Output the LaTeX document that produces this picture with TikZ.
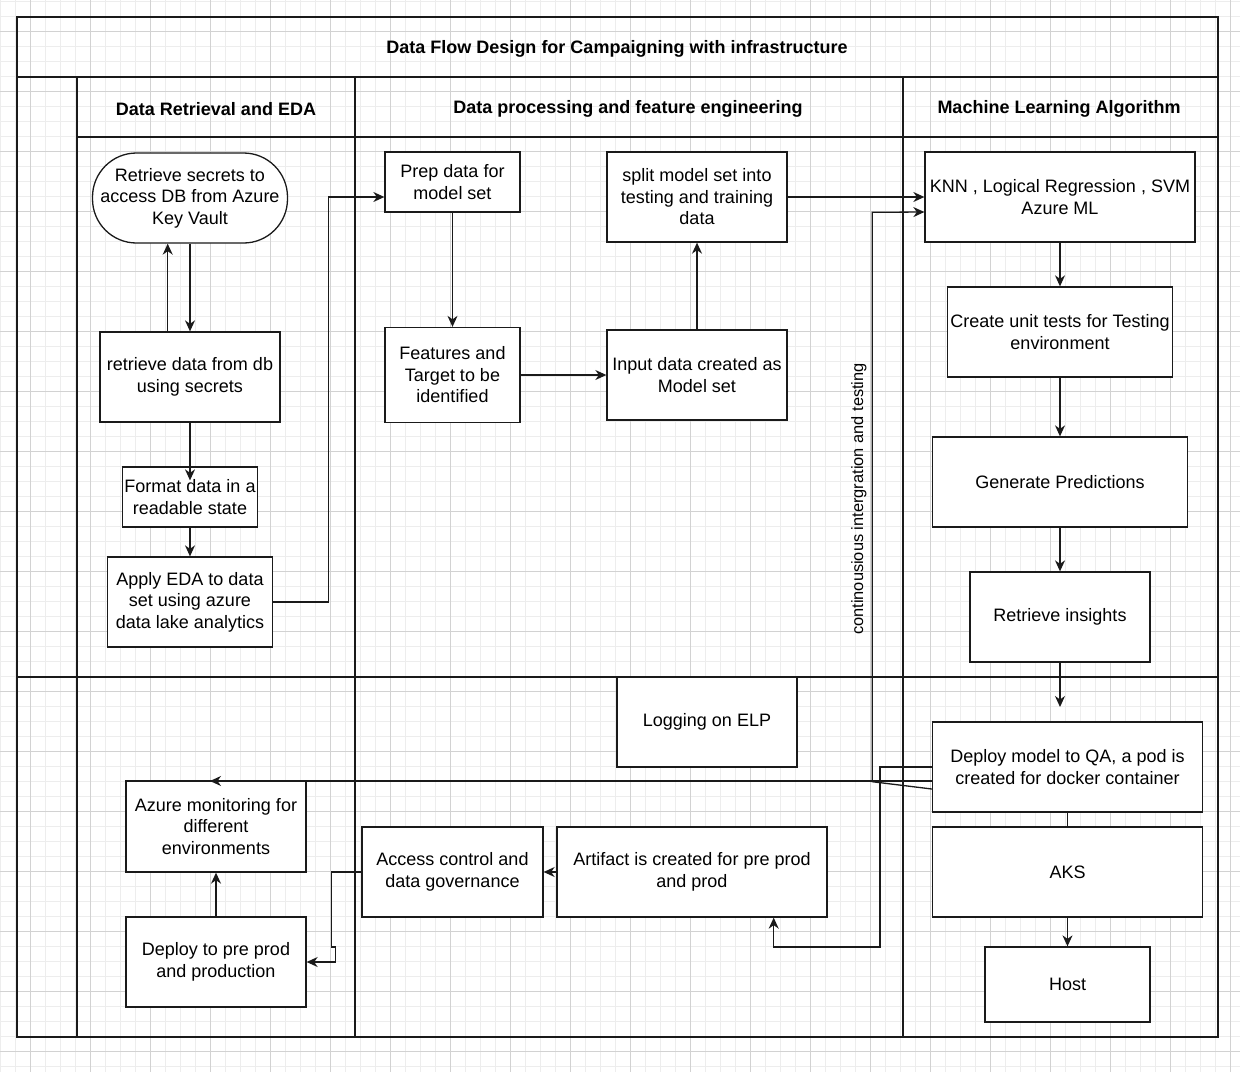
\documentclass[tikz,border=0pt]{standalone}
\usepackage{fontspec}
\setmainfont{Liberation Sans}
\usetikzlibrary{arrows.meta}
\definecolor{gridmajor}{HTML}{D2D2D2}
\definecolor{gridminor}{HTML}{EDEDED}
\definecolor{ink}{HTML}{1A1A1A}
\begin{document}
\begin{tikzpicture}[x=1pt,y=-1pt,
  box/.style={draw=ink, line width=1.3pt, fill=white, align=center, inner sep=0pt,
    font=\fontsize{18}{21.5}\selectfont},
  lane/.style={draw=ink, line width=1.5pt},
  hdr/.style={align=center, inner sep=0pt, font=\fontsize{18}{21.5}\selectfont\bfseries},
  arr/.style={draw=ink, line width=1.3pt, -{Stealth[length=11pt,width=10pt,inset=3.5pt]}},
  plain/.style={draw=ink, line width=1.3pt}
]
\useasboundingbox (0,0) rectangle (1240,1072);
\fill[white] (0,0) rectangle (1240,1072);
% grid
\foreach \i in {0,...,82} { \draw[gridminor, line width=1pt] ({0.7+15*\i},0) -- ({0.7+15*\i},1072); }
\foreach \j in {0,...,71} { \draw[gridminor, line width=1pt] (0,{1.7+15*\j}) -- (1240,{1.7+15*\j}); }
\foreach \i in {0,...,20} { \draw[gridmajor, line width=1pt] ({30.7+60*\i},0) -- ({30.7+60*\i},1072); }
\foreach \j in {0,...,17} { \draw[gridmajor, line width=1pt] (0,{31.7+60*\j}) -- (1240,{31.7+60*\j}); }

% swimlanes
\draw[lane] (17,17) rectangle (1218,1037);
\draw[lane] (17,77) -- (1218,77);
\draw[lane] (77,77) -- (77,1037);
\draw[lane] (355,77) -- (355,1037);
\draw[lane] (903,77) -- (903,1037);
\draw[lane] (77,137) -- (1218,137);
\draw[lane] (17,677) -- (1218,677);

\node[hdr] (title) at (617,49) {Data Flow Design for Campaigning with infrastructure};
\node[hdr] (h1) at (216,109) {Data Retrieval and EDA};
\node[hdr] (h2) at (628,109) {Data processing and feature engineering};
\node[hdr] (h3) at (1059,109) {Machine Learning Algorithm};

% lane 1
\node[box, rounded corners=44pt, minimum width=195pt, minimum height=90pt] (secrets) at (190,198) {Retrieve secrets to\\access DB from Azure\\Key Vault};
\node[box, minimum width=180pt, minimum height=90pt] (retr) at (190,377) {retrieve data from db\\using secrets};
\node[box, minimum width=135pt, minimum height=60pt] (format) at (190,497) {Format data in a\\readable state};
\node[box, minimum width=165pt, minimum height=90pt] (eda) at (190,602) {Apply EDA to data\\set using azure\\data lake analytics};

% lane 2
\node[box, minimum width=135pt, minimum height=60pt] (prep) at (452.5,182) {Prep data for\\model set};
\node[box, minimum width=135pt, minimum height=95pt] (feat) at (452.5,375) {Features and\\Target to be\\identified};
\node[box, minimum width=180pt, minimum height=90pt] (split) at (697,197) {split model set into\\testing and training\\data};
\node[box, minimum width=180pt, minimum height=90pt] (input) at (697,375) {Input data created as\\Model set};

% lane 3
\node[box, minimum width=270pt, minimum height=90pt] (knn) at (1060,197) {KNN , Logical Regression , SVM\\Azure ML};
\node[box, minimum width=225pt, minimum height=90pt] (unit) at (1060,332) {Create unit tests for Testing\\environment};
\node[box, minimum width=255pt, minimum height=90pt] (gen) at (1060,482) {Generate Predictions};
\node[box, minimum width=180pt, minimum height=90pt] (ins) at (1060,617) {Retrieve insights};
\node[box, minimum width=270pt, minimum height=90pt] (qa) at (1067.5,767) {Deploy model to QA, a pod is\\created for docker container};
\node[box, minimum width=270pt, minimum height=90pt] (aks) at (1067.5,872) {AKS};
\node[box, minimum width=165pt, minimum height=75pt] (host) at (1067.5,984.5) {Host};

% bottom row
\node[box, minimum width=180pt, minimum height=90pt] (log) at (707,722) {Logging on ELP};
\node[box, minimum width=180pt, minimum height=91pt] (azmon) at (216,826.5) {Azure monitoring for\\different\\environments};
\node[box, minimum width=180pt, minimum height=90pt] (dpp) at (216,962) {Deploy to pre prod\\and production};
\node[box, minimum width=181pt, minimum height=90pt] (acc) at (452.5,872) {Access control and\\data governance};
\node[box, minimum width=270pt, minimum height=90pt] (art) at (692,872) {Artifact is created for pre prod\\and prod};

% connectors lane 1
\draw[arr] ([xshift=-22.3pt]retr.north) -- ([xshift=-22.3pt]secrets.south);
\draw[arr] (secrets.south) -- (retr.north);
\draw[arr] (retr.south) -- ([yshift=-14pt]format.north);
\draw[arr] (format.south) -- (eda.north);
\draw[arr] (eda.east) -- ++(55.5,0) |- ([yshift=-15pt]prep.west);

% lane 2
\draw[arr] (prep.south) -- (feat.north);
\draw[arr] (feat.east) -- (input.west);
\draw[arr] (input.north) -- (split.south);
\draw[arr] (split.east) -- (knn.west);

% lane 3
\draw[arr] (knn.south) -- (unit.north);
\draw[arr] (unit.south) -- (gen.north);
\draw[arr] (gen.south) -- (ins.north);
\coordinate (insend) at (1060,707);
\draw[arr] (ins.south) -- (insend);
\draw[plain] (qa.south) -- (aks.north);
\draw[arr] (aks.south) -- (host.north);

% continuous integration loop
\coordinate (ci1) at (872.3,781.7);
\coordinate (ci2) at (872.3,212.3);
\draw[arr] ([yshift=-22pt]qa.west) -- (ci1) -- (ci2) -- ([yshift=-15pt]knn.west);
\node[rotate=90, inner sep=0pt, font=\fontsize{16.4}{20}\selectfont] (cilabel) at (859,499) {continousious intergration and testing};

% deployment flows
\coordinate (azin) at (210,0);
\draw[arr] ([yshift=-14pt]qa.west) -- ([yshift=-14pt]qa.west -| azin);
\coordinate (qaart) at (880,947);
\draw[arr] (qa.west) -| (qaart) -| ([xshift=81.7pt]art.south);
\draw[arr] (art.west) -- (acc.east);
\draw[arr] (acc.west) -- ++(-30,0) -- ++(0,75) -- ++(4,0) |- (dpp.east);
\draw[arr] (dpp.north) -- (azmon.south);
\end{tikzpicture}
\end{document}
